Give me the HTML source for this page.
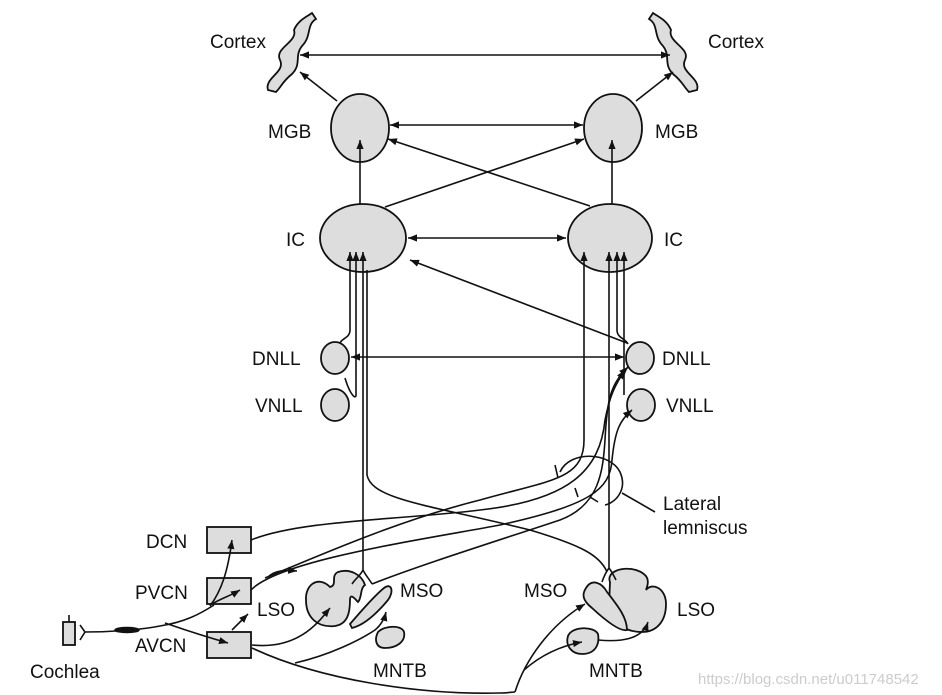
<!DOCTYPE html>
<html><head><style>
html,body{margin:0;padding:0;background:#fff}
svg{display:block}
text{font-family:"Liberation Sans",sans-serif;font-size:19px;fill:#111}
</style></head><body>
<svg width="942" height="695" viewBox="0 0 942 695">
<defs>
<marker id="a" viewBox="0 0 10 10" refX="10" refY="5" markerWidth="9" markerHeight="9" orient="auto-start-reverse" markerUnits="userSpaceOnUse"><path d="M0,1 L10,5 L0,9 z" fill="#111"/></marker>
</defs>
<g stroke="#111" stroke-width="1.8" fill="#ddd">
<path d="M268,90 C264,78 286,72 280,60 C274,48 298,42 294,30 C298,20 308,16 312,13 L316,19 C306,25 312,36 302,46 C294,56 302,64 292,74 C282,82 282,86 276,92 Z"/>
<path d="M697,90 C701,78 679,72 685,60 C691,48 667,42 671,30 C667,20 657,16 653,13 L649,19 C659,25 653,36 663,46 C671,56 663,64 673,74 C683,82 683,86 689,92 Z"/>
<ellipse cx="360" cy="128" rx="29" ry="34"/>
<ellipse cx="613" cy="128" rx="29" ry="34"/>
<ellipse cx="363" cy="238" rx="43" ry="34"/>
<ellipse cx="610" cy="238" rx="42" ry="34"/>
<ellipse cx="335" cy="358" rx="14" ry="16"/>
<ellipse cx="335" cy="405" rx="14" ry="16"/>
<ellipse cx="640" cy="358" rx="14" ry="16"/>
<ellipse cx="641" cy="405" rx="14" ry="16"/>
<rect x="207" y="527" width="44" height="26"/>
<rect x="207" y="578" width="44" height="26"/>
<rect x="207" y="632" width="44" height="26"/>
<rect x="63" y="622" width="12" height="23"/>
<path d="M330,587 C318,575 305,585 306,600 C306,618 318,628 335,626 C348,624 350,612 350,600 C350,592 356,600 358,602 C362,598 360,588 365,585 C362,575 350,568 338,572 C330,576 338,585 330,587 Z"/>
<path d="M350,624 C362,610 375,595 384,588 C392,582 394,592 388,600 C378,612 365,625 352,628 Z"/>
<path d="M378,632 C385,625 402,625 404,632 C406,642 396,648 385,648 C376,648 374,640 378,632 Z"/>
<path d="M610,582 C606,572 622,566 636,570 C648,574 650,580 646,590 C652,582 666,588 666,604 C666,622 656,632 642,632 C626,632 612,624 609,606 Z"/>
<path d="M586,588 C592,578 602,583 607,592 C617,605 627,617 627,630 C620,632 605,620 592,608 C582,600 582,594 586,588 Z"/>
<path d="M568,636 C572,626 594,626 598,634 C600,646 594,654 582,654 C572,654 565,646 568,636 Z"/>
</g>
<g stroke="#111" stroke-width="1.6" fill="none">
<line x1="300" y1="55" x2="670" y2="55" marker-start="url(#a)" marker-end="url(#a)"/>
<line x1="337" y1="101" x2="300" y2="72" marker-end="url(#a)"/>
<line x1="636" y1="101" x2="673" y2="72" marker-end="url(#a)"/>
<line x1="390" y1="125" x2="583" y2="125" marker-start="url(#a)" marker-end="url(#a)"/>
<line x1="360" y1="204" x2="360" y2="140" marker-end="url(#a)"/>
<line x1="612" y1="204" x2="612" y2="140" marker-end="url(#a)"/>
<line x1="385" y1="207" x2="584" y2="139" marker-end="url(#a)"/>
<line x1="590" y1="206" x2="388" y2="139" marker-end="url(#a)"/>
<line x1="408" y1="238" x2="566" y2="238" marker-start="url(#a)" marker-end="url(#a)"/>
<line x1="627" y1="343" x2="410" y2="260" marker-end="url(#a)"/>
<line x1="351" y1="357" x2="624" y2="357" marker-start="url(#a)" marker-end="url(#a)"/>
<path d="M350,252 L350,330 C350,338 342,338 340,343" marker-start="url(#a)"/>
<path d="M356,252 L356,395 C356,400 350,395 345,378" marker-start="url(#a)" />
<path d="M363,252 L363,570 C360,576 356,578 352,584" marker-start="url(#a)"/>
<path d="M363,570 C366,576 370,580 372,584"/>
<path d="M367,270 L367,475 C372,500 430,505 530,530 C580,545 600,555 607,572"/>
<path d="M584,252 L584,440 C584,480 550,480 480,500 C400,520 320,555 265,578" marker-start="url(#a)"/>
<path d="M609,252 L609,568 C606,572 604,576 602,582" marker-start="url(#a)"/>
<path d="M609,568 C612,572 614,576 616,580"/>
<path d="M617,252 L617,330 C617,338 625,338 628,344" marker-start="url(#a)"/>
<path d="M624,252 L624,395" marker-start="url(#a)"/>
<path d="M251,540 C300,520 400,520 480,510 C570,500 600,470 605,420 C610,395 615,385 625,370" marker-end="url(#a)"/>
<path d="M251,590 C280,560 420,540 500,525 C590,505 610,490 612,460 C615,430 620,420 632,410" marker-end="url(#a)"/>
<path d="M372,584 C420,565 500,540 560,520 C600,505 603,470 605,440 C607,400 610,385 628,367" marker-end="url(#a)"/>
<path d="M268,577 C275,570 285,570 297,571" marker-end="url(#a)"/>
<path d="M560,472 C570,450 610,452 620,472 C628,490 615,503 605,505"/>
<path d="M555,465 L558,478 M575,488 L578,497 M590,497 L598,502"/>
<line x1="622" y1="493" x2="655" y2="512"/>
<path d="M69,622 L69,615"/>
<path d="M80,625 L85,632 L80,640 M85,632 C110,632 140,630 160,626 C185,622 200,614 214,605"/>
<ellipse cx="127" cy="630" rx="12" ry="2.5" fill="#111"/>
<path d="M210,606 C222,590 228,570 232,540" marker-end="url(#a)"/>
<path d="M212,604 C222,598 230,596 240,590" marker-end="url(#a)"/>
<path d="M165,623 C185,630 200,635 228,643" marker-end="url(#a)"/>
<path d="M232,630 C238,624 242,620 248,614" marker-end="url(#a)"/>
<path d="M252,645 C300,650 320,620 330,608" marker-end="url(#a)"/>
<path d="M295,663 C330,655 360,640 375,630 C380,626 384,620 386,612" marker-end="url(#a)"/>
<path d="M252,648 C320,680 420,695 500,693 C508,693 512,692 515,692"/>
<path d="M515,692 C525,660 550,625 585,604" marker-end="url(#a)"/>
<path d="M524,670 C540,656 560,646 582,642" marker-end="url(#a)"/>
<path d="M598,640 C620,642 642,640 648,622" marker-end="url(#a)"/>
</g>
<text x="210" y="48">Cortex</text>
<text x="708" y="48">Cortex</text>
<text x="268" y="138">MGB</text>
<text x="655" y="138">MGB</text>
<text x="286" y="246">IC</text>
<text x="664" y="246">IC</text>
<text x="252" y="365">DNLL</text>
<text x="255" y="412">VNLL</text>
<text x="662" y="365">DNLL</text>
<text x="666" y="412">VNLL</text>
<text x="663" y="510">Lateral</text>
<text x="663" y="534">lemniscus</text>
<text x="146" y="548">DCN</text>
<text x="135" y="599">PVCN</text>
<text x="135" y="652">AVCN</text>
<text x="30" y="678">Cochlea</text>
<text x="257" y="616">LSO</text>
<text x="400" y="597">MSO</text>
<text x="373" y="677">MNTB</text>
<text x="524" y="597">MSO</text>
<text x="677" y="616">LSO</text>
<text x="589" y="677">MNTB</text>
<text x="698" y="684" style="font-size:15px;fill:#ccc">https://blog.csdn.net/u011748542</text>
</svg>
</body></html>
